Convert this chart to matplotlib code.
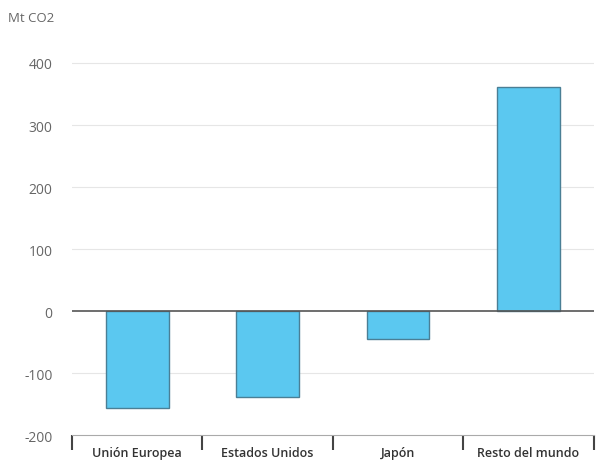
import matplotlib.pyplot as plt
import numpy as np

categorias = ['Unión Europea', 'Estados Unidos', 'Japón', 'Resto del mundo']
valores = [-156, -139, -45, 361]
yticks = [-200, -100, 0, 100, 200, 300, 400]

plt.rcParams['font.family'] = ['Open Sans', 'DejaVu Sans']

fig = plt.figure(figsize=(5.97, 4.64), dpi=100)
ax = fig.add_axes([0.1206, 0.0603, 0.874, 0.8285])

x = np.arange(len(categorias))
ax.bar(x, valores, width=0.48, color='#5bc8f0', edgecolor='#4a7f95', linewidth=1, zorder=3)

ax.set_xlim(-0.5, len(categorias) - 0.5)
ax.set_ylim(-200, 420)
ax.set_yticks(yticks)
ax.set_yticklabels([str(v) for v in yticks], color='#666666', fontsize=10)
for v in yticks[1:]:
    if v != 0:
        ax.axhline(v, color='#e6e6e6', lw=0.8, zorder=1)
ax.axhline(0, color='#555555', lw=1.2, zorder=4)

for s in ['top', 'right', 'left']:
    ax.spines[s].set_visible(False)
ax.spines['bottom'].set_color('#aaaaaa')
ax.tick_params(axis='y', length=0, pad=14)

# bordes de categorias
ax.set_xticks(np.arange(-0.5, len(categorias)))
ax.set_xticklabels([])
ax.tick_params(axis='x', length=11, width=1.5, color='#444444', direction='out')
for i, c in enumerate(categorias):
    ax.text(i, -217, c, ha='center', va='top', fontsize=9, color='#333333',
            fontweight='semibold', transform=ax.transData, clip_on=False)

fig.text(8 / 597, 1 - 18 / 464, 'Mt CO2', color='#666666', fontsize=9.5, va='center', ha='left')

plt.savefig('out.png', dpi=100)
